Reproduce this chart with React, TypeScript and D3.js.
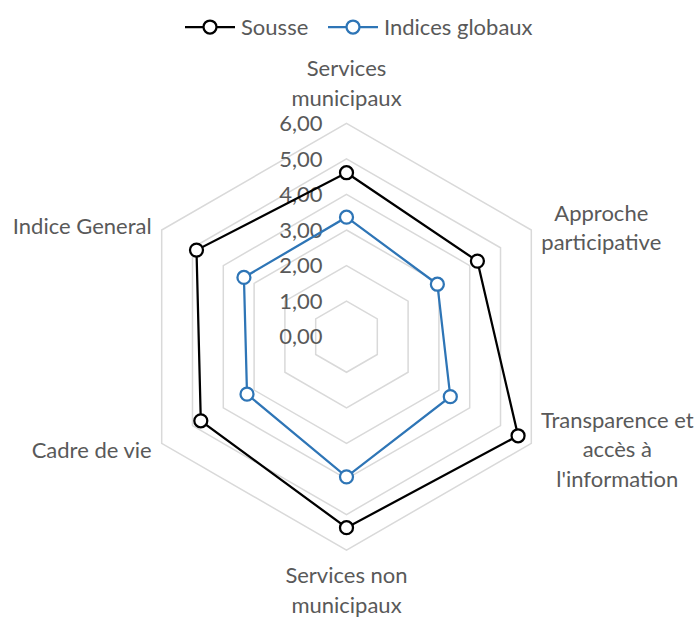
import React from "react";
import * as d3 from "d3";

const categories = [
  "Services municipaux",
  "Approche participative",
  "Transparence et accès à l'information",
  "Services non municipaux",
  "Cadre de vie",
  "Indice General",
];
const sousse = [4.61, 4.25, 5.57, 5.37, 4.73, 4.87];
const indicesGlobaux = [3.36, 2.95, 3.37, 3.94, 3.23, 3.33];
const tickValues = [0, 1, 2, 3, 4, 5, 6];
const seriesNames = ["Sousse", "Indices globaux"];

// label lines + placement tweaks (layout only)
const labelLayout = [
  { lines: ["Services", "municipaux"], dx: 0, dy: -40, anchor: "middle" },
  { lines: ["Approche", "participative"], dx: 70, dy: -2, anchor: "middle" },
  { lines: ["Transparence et", "accès à", "l'information"], dx: 86, dy: 6, anchor: "middle" },
  { lines: ["Services non", "municipaux"], dx: 0, dy: 40, anchor: "middle" },
  { lines: ["Cadre de vie"], dx: -10, dy: 7, anchor: "end" },
  { lines: ["Indice General"], dx: -10, dy: -4, anchor: "end" },
];

const W = 700;
const H = 617;
const cx = 346.5;
const cy = 336.7;
const font = "Lato, 'Open Sans', sans-serif";
const textColor = "#595959";
const fs = 22;

export default function App() {
  const r = d3.scaleLinear().domain([0, 6]).range([0, 213.4]);
  const angle = d3
    .scaleLinear()
    .domain([0, categories.length])
    .range([0, 2 * Math.PI]);

  const pt = (i: number, v: number) => {
    const a = angle(i);
    return [cx + r(v) * Math.sin(a), cy - r(v) * Math.cos(a)];
  };

  const radial = d3
    .lineRadial<number>()
    .angle((_, i) => angle(i))
    .radius((d) => r(d))
    .curve(d3.curveLinearClosed);

  const series = [
    { name: seriesNames[0], values: sousse, color: "#000000" },
    { name: seriesNames[1], values: indicesGlobaux, color: "#2E75B6" },
  ];

  const lineH = 29.5;

  return (
    <svg width={W} height={H} style={{ position: "absolute", left: 0, top: 0 }}>
      <rect width={W} height={H} fill="#fff" />
      {/* grid rings */}
      <g transform={`translate(${cx},${cy})`}>
        {tickValues.slice(1).map((t) => (
          <path
            key={t}
            d={radial(categories.map(() => t)) || ""}
            fill="none"
            stroke="#D9D9D9"
            strokeWidth={1.5}
          />
        ))}
      </g>
      {/* tick labels */}
      {tickValues.map((t) => (
        <text
          key={t}
          x={cx - 24}
          y={cy - r(t)}
          dy="0.35em"
          textAnchor="end"
          fontFamily={font}
          fontSize={fs}
          fill={textColor}
        >
          {d3.format(".2f")(t).replace(".", ",")}
        </text>
      ))}
      {/* series */}
      {series.map((s) => (
        <g key={s.name}>
          <path
            transform={`translate(${cx},${cy})`}
            d={radial(s.values) || ""}
            fill="none"
            stroke={s.color}
            strokeWidth={2.25}
          />
          {s.values.map((v, i) => {
            const [x, y] = pt(i, v);
            return (
              <circle key={i} cx={x} cy={y} r={6.5} fill="#fff" stroke={s.color} strokeWidth={2.25} />
            );
          })}
        </g>
      ))}
      {/* category labels */}
      {categories.map((c, i) => {
        const [x, y] = pt(i, 6);
        const L = labelLayout[i];
        const n = L.lines.length;
        return (
          <text
            key={c}
            x={x + L.dx}
            y={y + L.dy}
            textAnchor={L.anchor as any}
            fontFamily={font}
            fontSize={fs}
            fill={textColor}
          >
            {L.lines.map((ln, k) => (
              <tspan key={k} x={x + L.dx} y={y + L.dy + (k - (n - 1) / 2) * lineH} dy="0.35em">
                {ln}
              </tspan>
            ))}
          </text>
        );
      })}
      {/* legend */}
      {series.map((s, i) => {
        const lx = i === 0 ? 185 : 328;
        const ly = 27;
        return (
          <g key={s.name}>
            <line x1={lx} x2={lx + 50} y1={ly} y2={ly} stroke={s.color} strokeWidth={2.25} />
            <circle cx={lx + 25} cy={ly} r={6.5} fill="#fff" stroke={s.color} strokeWidth={2.25} />
            <text x={lx + 56} y={ly} dy="0.35em" fontFamily={font} fontSize={fs} fill={textColor}>
              {s.name}
            </text>
          </g>
        );
      })}
    </svg>
  );
}
